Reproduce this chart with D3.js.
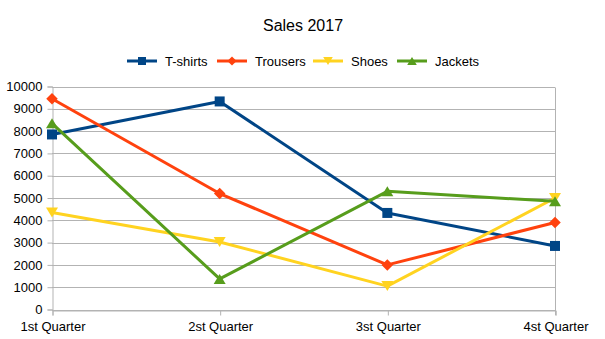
<!DOCTYPE html>
<html>
<head>
<meta charset="utf-8">
<script src="https://cdn.jsdelivr.net/npm/d3@7"></script>
<style>
  html, body { margin: 0; padding: 0; background: #fff; }
  svg { display: block; font-family: "Liberation Sans", Arial, sans-serif; }
</style>
</head>
<body>
<svg id="chart" width="605" height="339"></svg>
<script>
// Quarterly sales per product line
const quarters = ["1st Quarter", "2st Quarter", "3st Quarter", "4st Quarter"];
const seriesNames = ["T-shirts", "Trousers", "Shoes", "Jackets"];
const tshirts  = [7850, 9330, 4330, 2850];
const trousers = [9450, 5200, 2000, 3900];
const shoes    = [4350, 3030, 1050, 5000];
const jackets  = [8350, 1370, 5300, 4850];
const yTicks = [0, 1000, 2000, 3000, 4000, 5000, 6000, 7000, 8000, 9000, 10000];

const colors = ["#004586", "#ff420e", "#ffd320", "#579d1c"];
const symbols = ["square", "diamond", "down", "up"];
const seriesValues = [tshirts, trousers, shoes, jackets];

const svg = d3.select("#chart");
const margin = { left: 52, right: 50, top: 86.5, bottom: 30 };
const W = 605, H = 339;

const x = d3.scalePoint().domain(quarters).range([margin.left, W - margin.right]);
const y = d3.scaleLinear().domain([0, 10000]).range([309.5, margin.top]);

// Title
svg.append("text")
  .attr("x", 303).attr("y", 31)
  .attr("text-anchor", "middle")
  .attr("font-size", 16)
  .attr("fill", "#000")
  .text("Sales 2017");

// Horizontal grid
svg.append("g").selectAll("line").data(yTicks).join("line")
  .attr("x1", margin.left).attr("x2", W - margin.right)
  .attr("y1", d => Math.round(y(d)) + 0.5).attr("y2", d => Math.round(y(d)) + 0.5)
  .attr("stroke", "#b3b3b3").attr("stroke-width", 1);

// Right frame edge
svg.append("line")
  .attr("x1", W - margin.right + 0.5).attr("x2", W - margin.right + 0.5)
  .attr("y1", Math.round(y(10000)) + 0.5).attr("y2", Math.round(y(0)) + 5)
  .attr("stroke", "#b3b3b3");

// Y axis
const yAxis = svg.append("g")
  .attr("transform", `translate(${margin.left + 0.5},0)`)
  .call(d3.axisLeft(y).tickValues(yTicks).tickSize(5).tickFormat(d3.format("d")));
yAxis.select(".domain").attr("stroke", "#b3b3b3");
yAxis.selectAll(".tick line").attr("stroke", "#b3b3b3");
yAxis.selectAll(".tick text")
  .attr("font-size", 13).attr("fill", "#000")
  .attr("font-family", "Liberation Sans, Arial, sans-serif")
  .attr("x", -10);

// X axis
const xAxis = svg.append("g")
  .attr("transform", `translate(0.5,${Math.round(y(0)) + 0.5})`)
  .call(d3.axisBottom(x).tickSize(5).tickPadding(6));
xAxis.select(".domain").attr("stroke", "#b3b3b3");
xAxis.selectAll(".tick line").attr("stroke", "#b3b3b3");
xAxis.selectAll(".tick text")
  .attr("font-size", 13).attr("fill", "#000")
  .attr("font-family", "Liberation Sans, Arial, sans-serif");

// Marker shapes
function markerPath(kind, s) {
  if (kind === "square") return `M${-s},${-s}H${s}V${s}H${-s}Z`;
  if (kind === "diamond") return `M0,${-s * 1.15}L${s * 1.15},0L0,${s * 1.15}L${-s * 1.15},0Z`;
  if (kind === "down") return `M${-s * 1.2},${-s}L${s * 1.2},${-s}L0,${s}Z`;
  return `M${-s * 1.2},${s}L${s * 1.2},${s}L0,${-s}Z`;
}

const line = d3.line().x((d, i) => x(quarters[i])).y(d => y(d));

seriesValues.forEach((vals, si) => {
  const g = svg.append("g");
  g.append("path")
    .datum(vals)
    .attr("d", line)
    .attr("fill", "none")
    .attr("stroke", colors[si])
    .attr("stroke-width", 3)
    .attr("stroke-linejoin", "round");
  g.selectAll("path.m").data(vals).join("path")
    .attr("class", "m")
    .attr("transform", (d, i) => `translate(${x(quarters[i])},${y(d)})`)
    .attr("d", markerPath(symbols[si], 5))
    .attr("fill", colors[si]);
});

// Legend
const legendX = [127, 217, 313, 397];
const legend = svg.append("g");
seriesNames.forEach((name, i) => {
  const lx = legendX[i], ly = 61;
  legend.append("line")
    .attr("x1", lx).attr("x2", lx + 30)
    .attr("y1", ly).attr("y2", ly)
    .attr("stroke", colors[i]).attr("stroke-width", 3);
  legend.append("path")
    .attr("transform", `translate(${lx + 15},${ly})`)
    .attr("d", markerPath(symbols[i], 4))
    .attr("fill", colors[i]);
  legend.append("text")
    .attr("x", lx + 38).attr("y", ly + 4.5)
    .attr("font-size", 13).attr("fill", "#000")
    .text(name);
});
</script>
</body>
</html>
